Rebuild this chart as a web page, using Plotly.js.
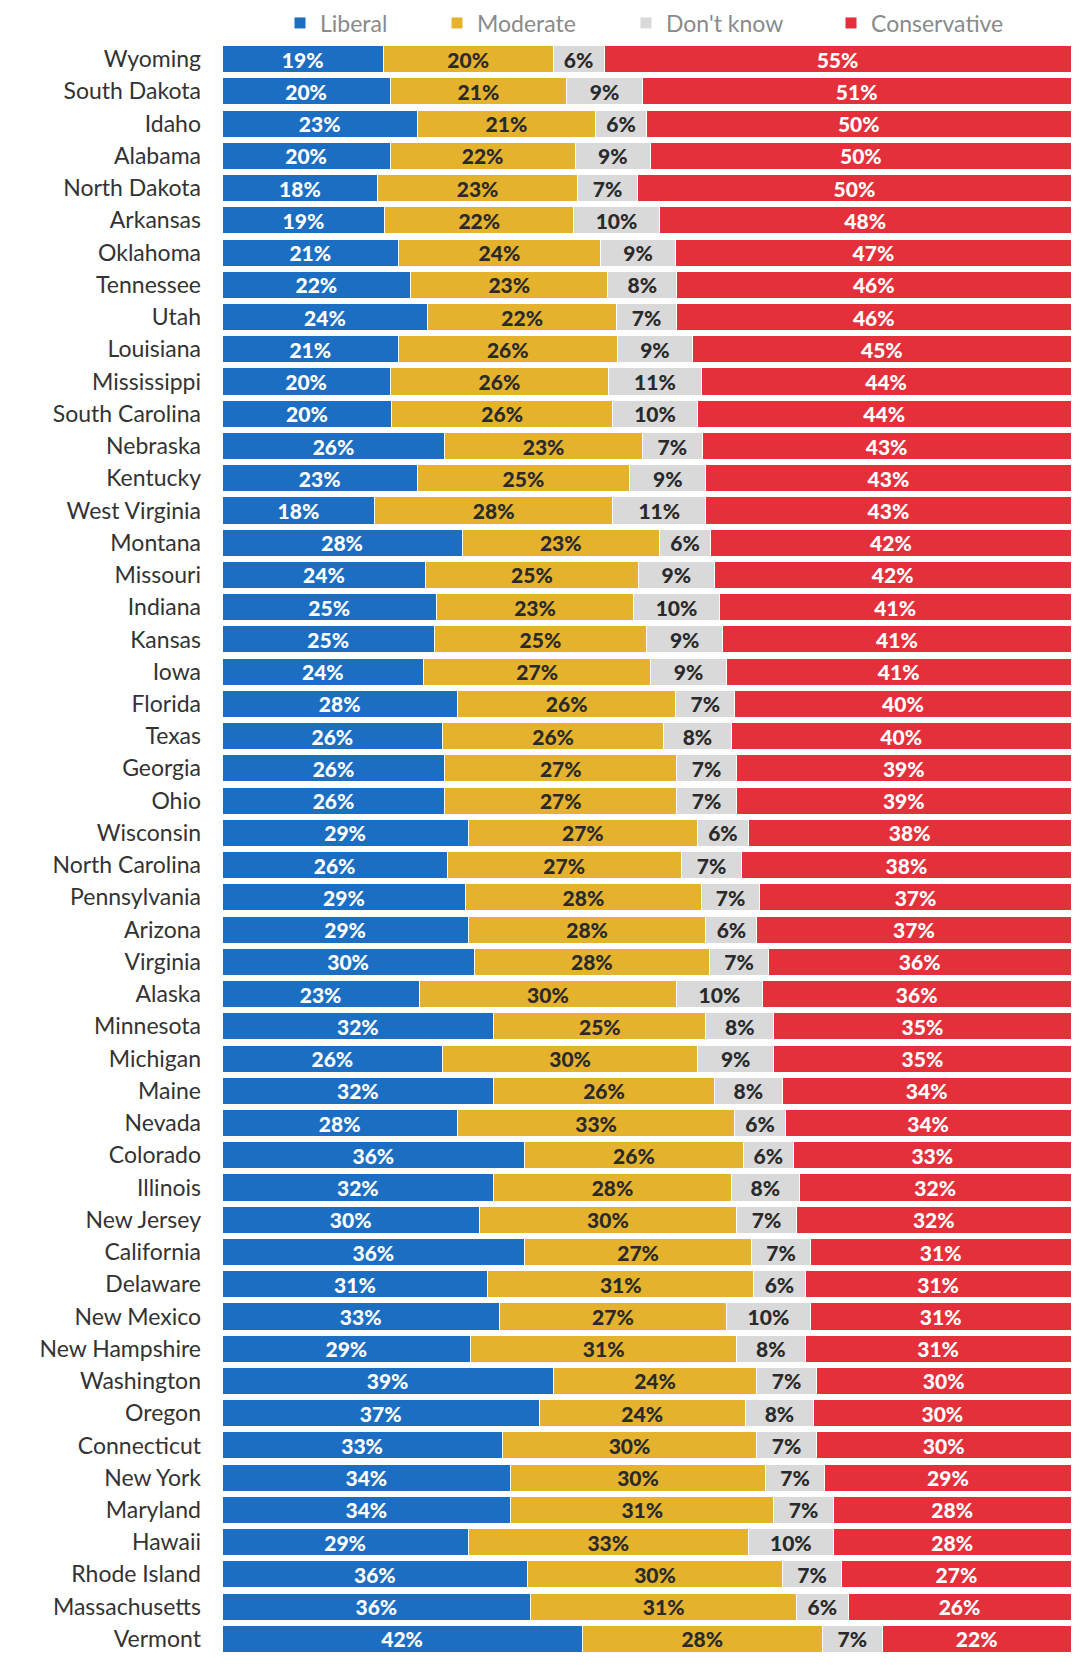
<!DOCTYPE html>
<html>
<head>
<meta charset="utf-8">
<script src="https://cdn.plot.ly/plotly-3.0.1.min.js"></script>
<style>html,body{margin:0;padding:0;background:#fff;}#chart{width:1088px;height:1669px;}</style>
</head>
<body>
<div id="chart"></div>
<script>
const states = ["Wyoming","South Dakota","Idaho","Alabama","North Dakota","Arkansas","Oklahoma","Tennessee","Utah","Louisiana","Mississippi","South Carolina","Nebraska","Kentucky","West Virginia","Montana","Missouri","Indiana","Kansas","Iowa","Florida","Texas","Georgia","Ohio","Wisconsin","North Carolina","Pennsylvania","Arizona","Virginia","Alaska","Minnesota","Michigan","Maine","Nevada","Colorado","Illinois","New Jersey","California","Delaware","New Mexico","New Hampshire","Washington","Oregon","Connecticut","New York","Maryland","Hawaii","Rhode Island","Massachusetts","Vermont"];
const liberal =      [19,20,23,20,18,19,21,22,24,21,20,20,26,23,18,28,24,25,25,24,28,26,26,26,29,26,29,29,30,23,32,26,32,28,36,32,30,36,31,33,29,39,37,33,34,34,29,36,36,42];
const moderate =     [20,21,21,22,23,22,24,23,22,26,26,26,23,25,28,23,25,23,25,27,26,26,27,27,27,27,28,28,28,30,25,30,26,33,26,28,30,27,31,27,31,24,24,30,30,31,33,30,31,28];
const dontKnow =     [6,9,6,9,7,10,9,8,7,9,11,10,7,9,11,6,9,10,9,9,7,8,7,7,6,7,7,6,7,10,8,9,8,6,6,8,7,7,6,10,8,7,8,7,7,7,10,7,6,7];
const conservative = [55,51,50,50,50,48,47,46,46,45,44,44,43,43,43,42,42,41,41,41,40,40,39,39,38,38,37,37,36,36,35,35,34,34,33,32,32,31,31,31,31,30,30,30,29,28,28,27,26,22];
const seriesNames = ["Liberal","Moderate","Don't know","Conservative"];
const seriesColors = ["#1b6ec2","#e4b22c","#d9d9d9","#e4303b"];
const textColors = ["#ffffff","#2a2a2a","#2a2a2a","#ffffff"];
const seriesValues = [liberal, moderate, dontKnow, conservative];
const legendIds = ['legend','legend2','legend3','legend4'];
const legendX = [280, 437, 626, 831];

const traces = seriesValues.map((vals, i) => ({
  type: 'bar',
  orientation: 'h',
  name: seriesNames[i],
  legend: legendIds[i],
  y: states,
  x: vals,
  text: vals.map(v => v + '%'),
  textposition: 'inside',
  insidetextanchor: 'middle',
  textangle: 0,
  constraintext: 'none',
  textfont: {family: 'Lato', size: 21, weight: 900, color: textColors[i]},
  marker: {color: seriesColors[i], line: {color: '#ffffff', width: 1}},
  hoverinfo: 'skip'
}));

const layout = {
  width: 1088,
  height: 1669,
  barmode: 'stack',
  barnorm: 'percent',
  bargap: 0.16,
  margin: {l: 222, r: 17, t: 43, b: 14, autoexpand: false},
  paper_bgcolor: '#ffffff',
  plot_bgcolor: '#ffffff',
  showlegend: true,
  xaxis: {range: [0, 100], visible: false, fixedrange: true},
  yaxis: {
    autorange: 'reversed',
    tickfont: {family: 'Lato', size: 23, color: '#333333'},
    ticks: '',
    ticklabelstandoff: 20,
    showgrid: false,
    zeroline: false,
    showline: false
  }
};
legendIds.forEach((id, i) => {
  layout[id] = {
    orientation: 'h',
    xref: 'container', yref: 'container',
    x: legendX[i] / 1088, xanchor: 'left',
    y: 1 - 23 / 1669, yanchor: 'middle',
    font: {family: 'Lato', size: 23, color: '#8a8a8a'},
    bgcolor: 'rgba(0,0,0,0)'
  };
});

Plotly.newPlot('chart', traces, layout, {displayModeBar: false, staticPlot: true});
</script>
</body>
</html>
